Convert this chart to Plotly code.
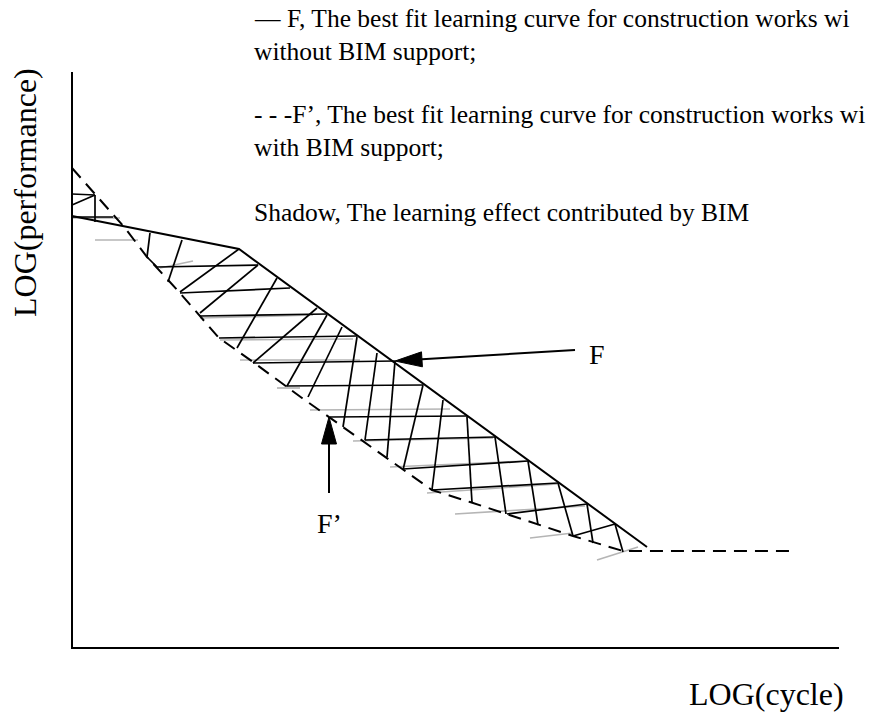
import numpy as np
import plotly.graph_objects as go

# ---------------- data (diagram units = reference pixels) ----------------
# Solid curve F (without BIM)
F_x = [72, 239, 647]
F_y = [216, 249, 547]

# Dashed curve F' (with BIM), ending in a horizontal plateau
Fp_x = [72, 125, 147, 180, 219, 253, 302, 343, 403, 432, 470, 507, 573, 623, 792]
Fp_y = [168, 228, 257, 293, 338, 362, 398, 427, 470, 490, 502, 514, 536, 551, 551]

# Axes
axis_x = [72, 72, 839]
axis_y = [72, 648, 648]

# Shadow hatching: black strokes (x0, y0, x1, y1)
hatch_x0 = [72, 72, 95, 72, 150, 147, 157, 180, 200, 219, 253, 285, 330, 365, 403, 432, 507, 573,
            182, 239, 258, 277, 317, 327, 342, 357, 377, 395, 423, 443,
            467, 495, 528, 558, 587, 615]
hatch_y0 = [194, 205, 195, 217, 233, 257, 267, 293, 316, 338, 363, 386, 417, 440, 469, 490, 514, 536,
            240, 249, 265, 278, 308, 315, 327, 337, 353, 361, 385, 400,
            417, 437, 461, 483, 504, 524]
hatch_x1 = [95, 95, 95, 113, 147, 157, 258, 290, 327, 357, 395, 423, 467, 495, 528, 558, 587, 615,
            168, 180, 200, 237, 253, 287, 308, 343, 365, 387, 403, 432,
            472, 506, 538, 573, 593, 623]
hatch_y1 = [195, 195, 222, 217, 257, 267, 265, 288, 314, 336, 361, 385, 416, 437, 461, 483, 504, 524,
            282, 292, 313, 348, 363, 386, 397, 427, 440, 457, 470, 490,
            503, 514, 525, 536, 543, 552]

# Shadow hatching: grey strokes (x0, y0, x1, y1)
grey_x0 = [72, 95, 160, 200, 220, 240, 277, 310, 353, 390, 427, 455, 530, 597]
grey_y0 = [218, 240, 268, 318, 340, 360, 388, 410, 441, 467, 493, 514, 538, 560]
grey_x1 = [120, 138, 193, 313, 353, 360, 300, 450, 493, 527, 557, 585, 573, 638]
grey_y1 = [218, 240, 261, 315, 339, 360, 388, 409, 438, 461, 484, 506, 533, 547]

# Arrows (tail -> tip) and their labels
arrow_tail_x = [575, 329]
arrow_tail_y = [350, 493]
arrow_tip_x = [395, 329]
arrow_tip_y = [361, 417]
arrow_labels = ["F", "F\u2019"]
arrow_label_x = [597, 329]
arrow_label_y = [354, 523]

# Legend text lines (y = line centre)
legend_lines = [
    "\u2014 F, The best fit learning curve for construction works wi",
    "without BIM support;",
    "- - -F\u2019, The best fit learning curve for construction works wi",
    "with BIM support;",
    "Shadow, The learning effect contributed by BIM",
]
legend_y = [18.5, 51.5, 114.5, 147, 212.5]
legend_x = 252

FONT = "Liberation Serif, Times New Roman, serif"


def segments(x0, y0, x1, y1):
    xs, ys = [], []
    for a, b, c, d in zip(x0, y0, x1, y1):
        xs += [a, c, None]
        ys += [b, d, None]
    return xs, ys


fig = go.Figure()

# grey shadow strokes first
gx, gy = segments(grey_x0, grey_y0, grey_x1, grey_y1)
fig.add_trace(go.Scatter(x=gx, y=gy, mode="lines",
                         line=dict(color="#b5b5b5", width=1.7), hoverinfo="skip"))

# black hatch strokes
hx, hy = segments(hatch_x0, hatch_y0, hatch_x1, hatch_y1)
fig.add_trace(go.Scatter(x=hx, y=hy, mode="lines",
                         line=dict(color="black", width=1.7), hoverinfo="skip"))

# axes
fig.add_trace(go.Scatter(x=axis_x, y=axis_y, mode="lines",
                         line=dict(color="black", width=2), hoverinfo="skip"))

# F curve
fig.add_trace(go.Scatter(x=F_x, y=F_y, mode="lines",
                         line=dict(color="black", width=2), hoverinfo="skip"))

# F' curve
fig.add_trace(go.Scatter(x=Fp_x, y=Fp_y, mode="lines",
                         line=dict(color="black", width=2, dash="13px,8px"), hoverinfo="skip"))

# arrows
HEAD_LEN, HEAD_HALF = 27.0, 7.5
for tx, ty, px, py in zip(arrow_tail_x, arrow_tail_y, arrow_tip_x, arrow_tip_y):
    d = np.array([px - tx, py - ty], dtype=float)
    d /= np.linalg.norm(d)
    n = np.array([-d[1], d[0]])
    tip = np.array([px, py], dtype=float)
    base = tip - HEAD_LEN * d
    fig.add_trace(go.Scatter(x=[tx, base[0]], y=[ty, base[1]], mode="lines",
                             line=dict(color="black", width=2), hoverinfo="skip"))
    tri = [tip, base + HEAD_HALF * n, base - HEAD_HALF * n, tip]
    fig.add_trace(go.Scatter(x=[p[0] for p in tri], y=[p[1] for p in tri], mode="lines",
                             fill="toself", fillcolor="black",
                             line=dict(color="black", width=1), hoverinfo="skip"))

annotations = []
for txt, x, y in zip(arrow_labels, arrow_label_x, arrow_label_y):
    annotations.append(dict(x=x, y=y, xref="x", yref="y", text=txt, showarrow=False,
                            xanchor="center", yanchor="middle",
                            font=dict(family=FONT, size=28, color="black")))
for txt, y in zip(legend_lines, legend_y):
    annotations.append(dict(x=legend_x, y=y, xref="x", yref="y", text=txt, showarrow=False,
                            xanchor="left", yanchor="middle",
                            font=dict(family=FONT, size=25.5, color="black")))
annotations.append(dict(x=25, y=193, xref="x", yref="y", text="LOG(performance)",
                        showarrow=False, textangle=-90, xanchor="center", yanchor="middle",
                        font=dict(family=FONT, size=32, color="black")))
annotations.append(dict(x=766, y=694, xref="x", yref="y", text="LOG(cycle)",
                        showarrow=False, xanchor="center", yanchor="middle",
                        font=dict(family=FONT, size=32, color="black")))

fig.update_layout(
    width=894, height=715,
    margin=dict(l=0, r=0, t=0, b=0),
    paper_bgcolor="white", plot_bgcolor="white",
    showlegend=False,
    xaxis=dict(range=[0, 894], visible=False, fixedrange=True),
    yaxis=dict(range=[715, 0], visible=False, fixedrange=True),
    annotations=annotations,
)

fig.write_html(
    "out.html",
    config={"displayModeBar": False},
    post_script="document.body.style.margin='0';document.documentElement.style.overflow='hidden';",
)
